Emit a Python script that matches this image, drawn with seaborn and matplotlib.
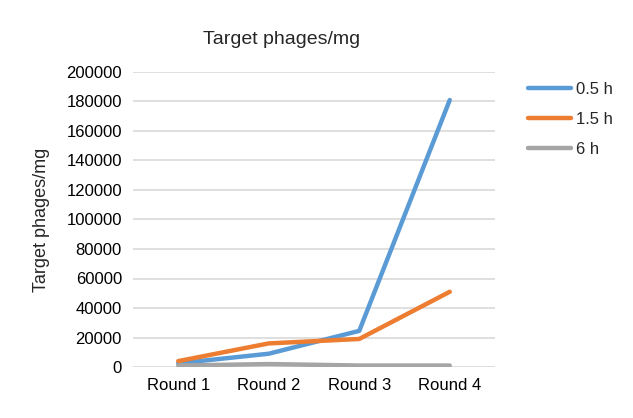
import matplotlib
matplotlib.use("Agg")
import matplotlib.pyplot as plt
import seaborn as sns
import pandas as pd

rounds = ["Round 1", "Round 2", "Round 3", "Round 4"]
series_names = ["0.5 h", "1.5 h", "6 h"]
vals_05 = [2500, 9000, 24500, 181000]
vals_15 = [4000, 16000, 19000, 51000]
vals_6 = [1000, 2000, 1000, 1000]
colors = ["#5B9BD5", "#ED7D31", "#A5A5A5"]

rows = []
for name, vals in zip(series_names, [vals_05, vals_15, vals_6]):
    for r, v in zip(rounds, vals):
        rows.append({"Round": r, "Series": name, "Value": v})
df = pd.DataFrame(rows)

sns.set_theme(style="white")
plt.rcParams["font.family"] = ["Liberation Sans", "DejaVu Sans"]

fig = plt.figure(figsize=(6.33, 4.18), dpi=100)
ax = fig.add_axes([133/633, 1-367/418, (495-133)/633, (367-72)/418])
sns.lineplot(data=df, x="Round", y="Value", hue="Series", palette=colors,
             linewidth=3.2, ax=ax, sort=False)
ax.set_xlim(-0.5, 3.5)
ax.set_ylim(0, 200000)
ax.set_yticks(range(0, 200001, 20000))
ax.yaxis.grid(True, color="#D9D9D9", linewidth=1.2)
ax.set_axisbelow(True)
for s in ax.spines.values():
    s.set_visible(False)
ax.tick_params(axis="both", length=0, labelsize=12, colors="#000000", pad=8)
ax.set_xlabel("")
ax.set_ylabel("Target phages/mg", fontsize=13, labelpad=12)
fig.text(282/633, 1-40/418, "Target phages/mg", ha="center", va="center", fontsize=14)
leg = ax.legend(loc="upper left", bbox_to_anchor=(1.05, 1.018), frameon=False,
                fontsize=12, handlelength=2.6, labelspacing=0.9, handletextpad=0.3)
for line in leg.get_lines():
    line.set_linewidth(3.2)
fig.savefig("out.png", dpi=100)
